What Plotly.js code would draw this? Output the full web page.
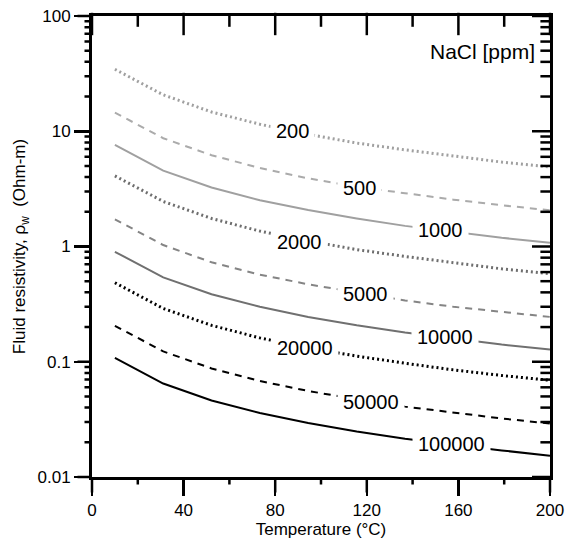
<!DOCTYPE html>
<html><head><meta charset="utf-8">
<script src="https://cdn.plot.ly/plotly-3.0.1.min.js"></script>
<style>html,body{margin:0;padding:0;background:#fff}#chart{width:567px;height:544px}</style>
</head><body><div id="chart"></div>
<script>
// Temperature (°C) at which each curve is sampled
const temperatureC = [10, 31.1, 52.2, 73.3, 94.4, 115.6, 136.7, 157.8, 178.9, 200];
// NaCl concentrations (ppm) - curve labels
const salinityLabels = ['200', '500', '1000', '2000', '5000', '10000', '20000', '50000', '100000'];
// Fluid resistivity (Ohm-m) for each concentration
const rho200    = [34.5, 20.7, 14.7, 11.5, 9.4, 7.9, 6.9, 6.1, 5.4, 4.9];
const rho500    = [14.5, 8.7, 6.2, 4.8, 3.9, 3.3, 2.9, 2.55, 2.28, 2.06];
const rho1000   = [7.6, 4.55, 3.25, 2.52, 2.07, 1.75, 1.51, 1.34, 1.19, 1.08];
const rho2000   = [4.1, 2.46, 1.75, 1.36, 1.12, 0.94, 0.82, 0.72, 0.64, 0.58];
const rho5000   = [1.72, 1.03, 0.73, 0.57, 0.47, 0.40, 0.34, 0.30, 0.27, 0.245];
const rho10000  = [0.90, 0.54, 0.385, 0.30, 0.245, 0.207, 0.179, 0.158, 0.141, 0.128];
const rho20000  = [0.485, 0.29, 0.207, 0.161, 0.132, 0.112, 0.097, 0.085, 0.076, 0.069];
const rho50000  = [0.205, 0.123, 0.0875, 0.068, 0.0558, 0.0472, 0.0408, 0.036, 0.0322, 0.0291];
const rho100000 = [0.108, 0.0647, 0.0461, 0.0359, 0.0294, 0.0248, 0.0215, 0.019, 0.017, 0.0153];
// Inline label positions (temperature, resistivity)
const labelT   = [87.5, 117, 152, 90.6, 119.5, 154, 93, 121.7, 157];
const labelRho = [10.0, 3.25, 1.39, 1.1, 0.39, 0.163, 0.132, 0.045, 0.0195];
// Axis ticks
const xTickVals = [0, 40, 80, 120, 160, 200];
const xMinorVals = [20, 60, 100, 140, 180];
const yTickVals = [0.01, 0.1, 1, 10, 100];
const yTickText = ['0.01', '0.1', '1', '10', '100'];

const seriesValues = [rho200, rho500, rho1000, rho2000, rho5000, rho10000, rho20000, rho50000, rho100000];
const styles = [
  {color: '#a0a0a0', width: 3, dash: '2px,3px'},
  {color: '#ababab', width: 2, dash: '7px,6px'},
  {color: '#a0a0a0', width: 2, dash: 'solid'},
  {color: '#6e6e6e', width: 3, dash: '2px,3px'},
  {color: '#858585', width: 2, dash: '7px,6px'},
  {color: '#707070', width: 2, dash: 'solid'},
  {color: '#000000', width: 3, dash: '2px,3px'},
  {color: '#000000', width: 2, dash: '7px,6px'},
  {color: '#000000', width: 2, dash: 'solid'}
];

const traces = seriesValues.map((vals, i) => ({
  type: 'scatter', mode: 'lines', x: temperatureC, y: vals,
  name: salinityLabels[i], line: styles[i], showlegend: false
}));

const minorY = [];
for (let e = -2; e < 2; e++) for (let m = 2; m <= 9; m++) minorY.push(m * Math.pow(10, e));

// frame geometry (used to place the inward tick marks on the top and right edges)
const W = 567, H = 544, M = {l: 92, r: 17, t: 16, b: 67};
const pxPerX = (W - M.l - M.r) / 200;
const pxPerDecade = (H - M.t - M.b) / 4;
const belowTop = d => Math.pow(10, 2 - d / pxPerDecade);
const tickTrace = (xs, ys, symbol, len) => ({
  type: 'scatter', mode: 'markers', x: xs, y: ys, cliponaxis: false, showlegend: false,
  marker: {symbol: symbol, size: len, color: '#000', line: {color: '#000', width: 2.5}}
});
const fill = (n, v) => new Array(n).fill(v);
traces.push(tickTrace(xTickVals, fill(xTickVals.length, belowTop(8)), 'line-ns', 16));
traces.push(tickTrace(xMinorVals, fill(xMinorVals.length, belowTop(4.5)), 'line-ns', 9));
traces.push(tickTrace(fill(yTickVals.length, 200 - 7.5 / pxPerX), yTickVals, 'line-ew', 15));
traces.push(tickTrace(fill(minorY.length, 200 - 4 / pxPerX), minorY, 'line-ew', 8));

const FONT = 'Arial, "Liberation Sans", sans-serif';
const annotations = salinityLabels.map((t, i) => ({
  x: labelT[i], y: Math.log10(labelRho[i]), xref: 'x', yref: 'y', text: t, showarrow: false,
  font: {family: FONT, size: 20, color: '#000'}, bgcolor: '#ffffff', borderpad: 5,
  xanchor: 'center', yanchor: 'middle'
}));
annotations.push({x: 0.972, y: 0.922, xref: 'paper', yref: 'paper', text: 'NaCl [ppm]', showarrow: false,
  font: {family: FONT, size: 21, color: '#000'}, xanchor: 'right', yanchor: 'middle'});

// outward tick marks on the bottom and left edges, drawn as head-less arrows from the tick arrays
const tickArrow = (x, y, ax, ay) => ({x: x, y: y, xref: 'x', yref: 'y', text: '', showarrow: true,
  arrowhead: 0, arrowwidth: 2.5, arrowcolor: '#000', ax: ax, ay: ay, standoff: 0, startstandoff: 0, borderpad: 0});
xTickVals.forEach(v => annotations.push(tickArrow(v, -2, 0, 16)));
xMinorVals.forEach(v => annotations.push(tickArrow(v, -2, 0, 8)));
yTickVals.forEach(v => annotations.push(tickArrow(0, Math.log10(v), -15, 0)));
minorY.forEach(v => annotations.push(tickArrow(0, Math.log10(v), -8, 0)));

const axisCommon = {showgrid: false, zeroline: false, showline: true, mirror: true, linecolor: '#000', linewidth: 3,
  tickcolor: '#000', tickwidth: 2.5};

const layout = {
  width: W, height: H,
  margin: M,
  paper_bgcolor: '#fff', plot_bgcolor: '#fff',
  font: {family: FONT, size: 17, color: '#000'},
  xaxis: Object.assign({}, axisCommon, {
    range: [0, 200], tickmode: 'array', tickvals: xTickVals, ticks: 'outside', ticklen: 16,
    tickfont: {family: FONT, size: 17, color: '#000'},
    title: {text: 'Temperature (°C)', font: {family: FONT, size: 17, color: '#000'}, standoff: 4}
  }),
  yaxis: Object.assign({}, axisCommon, {
    type: 'log', range: [-2, 2], tickmode: 'array', tickvals: yTickVals, ticktext: yTickText,
    ticks: 'outside', ticklen: 15,
    tickfont: {family: FONT, size: 17, color: '#000'},
    title: {text: 'Fluid resistivity, ρ<sub>w</sub>  (Ohm-m)', font: {family: FONT, size: 17, color: '#000'}, standoff: 8}
  }),
  annotations: annotations
};

Plotly.newPlot('chart', traces, layout, {displayModeBar: false, staticPlot: true});
</script>
</body></html>
